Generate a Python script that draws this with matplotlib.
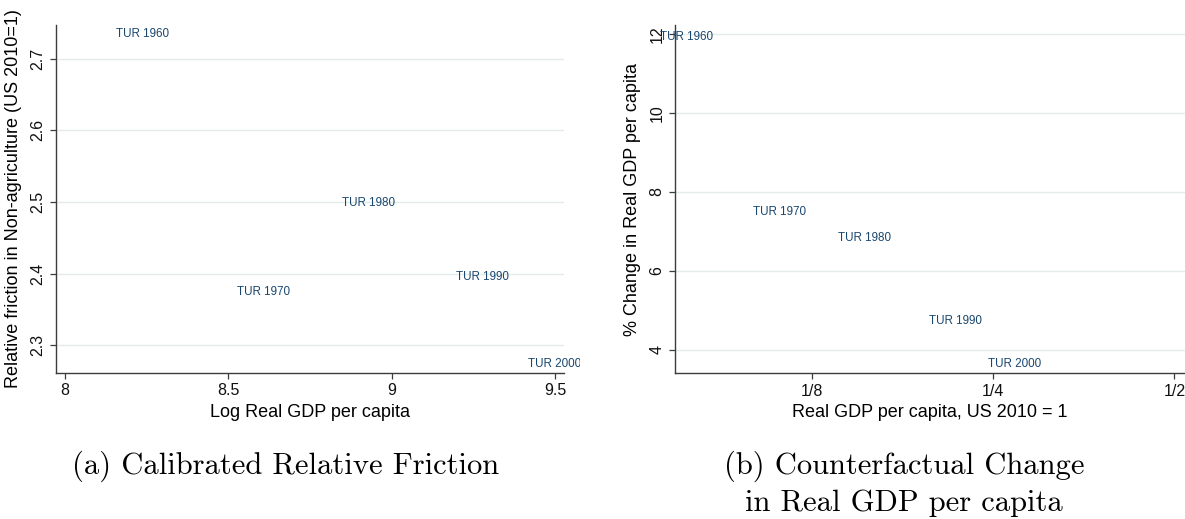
import numpy as np
import matplotlib.pyplot as plt
from matplotlib.transforms import Bbox, TransformedBbox

# --- data ---
labels = ["TUR 1960", "TUR 1970", "TUR 1980", "TUR 1990", "TUR 2000"]

# panel (a): log real GDP per capita vs relative friction
log_gdp = [8.156, 8.525, 8.847, 9.195, 9.418]
friction = [2.734, 2.375, 2.499, 2.395, 2.274]

# panel (b): real GDP per capita (US 2010 = 1) vs % change in GDP
rel_gdp = [0.0699, 0.0998, 0.1380, 0.1956, 0.2446]
pct_change = [11.93, 7.48, 6.84, 4.73, 3.64]

xticks_a = [8, 8.5, 9, 9.5]
xticklabels_a = ["8", "8.5", "9", "9.5"]
yticks_a = [2.3, 2.4, 2.5, 2.6, 2.7]
xticks_b = [0.125, 0.25, 0.5]
xticklabels_b = ["1/8", "1/4", "1/2"]
yticks_b = [4, 6, 8, 10, 12]

plt.rcParams['font.family'] = ['Liberation Sans', 'DejaVu Sans']

NAVY = '#1a476f'
GRID = '#e2eced'
AXC = '#3c3c3c'

W, H = 1185, 519
fig = plt.figure(figsize=(W / 100, H / 100), dpi=100)

def px_axes(x0, x1, y_top, y_bot):
    return fig.add_axes([x0 / W, 1 - y_bot / H, (x1 - x0) / W, (y_bot - y_top) / H])

def style(ax):
    for s in ['top', 'right']:
        ax.spines[s].set_visible(False)
    for s in ['left', 'bottom']:
        ax.spines[s].set_color(AXC)
        ax.spines[s].set_linewidth(1.0)
    ax.tick_params(axis='both', direction='out', length=4, width=0.9, color=AXC,
                   labelsize=11.5, labelcolor='#111111')
    ax.tick_params(axis='y', labelrotation=90)
    for lab in ax.get_yticklabels():
        lab.set_va('center')
    ax.yaxis.grid(True, color=GRID, linewidth=1.0)
    ax.xaxis.grid(False)
    ax.set_axisbelow(True)

# ----- panel (a) -----
ax1 = px_axes(55.7, 564.3, 25, 372.7)
ax1.set_xlim(7.971, 9.528)
ax1.set_ylim(2.2618, 2.747)
ax1.set_xticks(xticks_a, xticklabels_a)
ax1.set_yticks(yticks_a, [f"{v:.1f}" for v in yticks_a])
style(ax1)
ax1.set_xlabel("Log Real GDP per capita", fontsize=13, labelpad=4)
ax1.set_ylabel("Relative friction in Non-agriculture (US 2010=1)", fontsize=13, labelpad=6)

clip = TransformedBbox(Bbox.from_extents(0, 0, 580 / W, 1), fig.transFigure)
for x, y, t in zip(log_gdp, friction, labels):
    txt = ax1.text(x, y, t, fontsize=8.4, color=NAVY, ha='left', va='center', clip_on=True)
    txt.set_clip_box(clip)

# ----- panel (b) -----
ax2 = px_axes(674.7, 1185, 25, 373.3)
ax2.set_xscale('log', base=2)
ax2.set_xlim(2 ** -3.760, 2 ** -0.941)
ax2.set_ylim(3.40, 12.23)
ax2.set_xticks(xticks_b, xticklabels_b)
ax2.xaxis.set_minor_locator(plt.NullLocator())
ax2.set_yticks(yticks_b, [str(v) for v in yticks_b])
style(ax2)
ax2.set_xlabel("Real GDP per capita, US 2010 = 1", fontsize=13, labelpad=4)
ax2.set_ylabel("% Change in Real GDP per capita", fontsize=13, labelpad=6)

for x, y, t in zip(rel_gdp, pct_change, labels):
    ax2.text(x, y, t, fontsize=8.4, color=NAVY, ha='left', va='center', clip_on=False)

# ----- captions -----
cap = dict(family=['cmr10', 'DejaVu Serif'], fontsize=22, ha='center', va='center')
fig.text(286 / W, 1 - 466 / H, "(a) Calibrated Relative Friction", **cap)
fig.text(904 / W, 1 - 466 / H, "(b) Counterfactual Change", **cap)
fig.text(904 / W, 1 - 503 / H, "in Real GDP per capita", **cap)

fig.savefig("out.png", dpi=100)
